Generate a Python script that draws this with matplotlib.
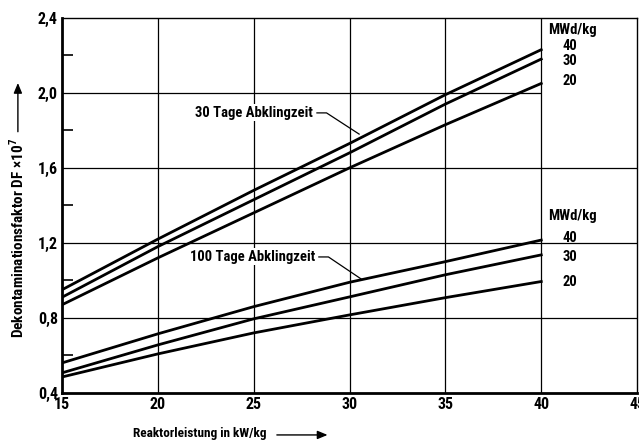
import matplotlib
matplotlib.use("Agg")
import matplotlib.pyplot as plt
from matplotlib import font_manager
from matplotlib.patches import FancyArrowPatch

# data
leistung = [15, 20, 25, 30, 35, 40]

df30_40 = [0.95, 1.22, 1.48, 1.73, 1.99, 2.23]
df30_30 = [0.91, 1.18, 1.43, 1.68, 1.94, 2.18]
df30_20 = [0.87, 1.12, 1.36, 1.60, 1.83, 2.05]

df100_40 = [0.56, 0.715, 0.86, 0.99, 1.10, 1.215]
df100_30 = [0.507, 0.656, 0.795, 0.912, 1.03, 1.136]
df100_20 = [0.485, 0.608, 0.72, 0.816, 0.908, 0.994]

abbrand = ["40", "30", "20"]
xticks = [15, 20, 25, 30, 35, 40, 45]
yticks = [0.4, 0.8, 1.2, 1.6, 2.0, 2.4]
yminor = [0.6, 1.0, 1.4, 1.8, 2.2]

names = {f.name for f in font_manager.fontManager.ttflist}
fam = "DejaVu Sans"
for cand in ["Roboto Condensed", "Liberation Sans Narrow", "Roboto"]:
    if cand in names:
        fam = cand
        break
plt.rcParams["font.family"] = [fam, "DejaVu Sans"]
plt.rcParams["font.weight"] = "bold"
plt.rcParams["mathtext.fontset"] = "custom"
plt.rcParams["mathtext.rm"] = fam

FS = 10.5
TFS = 11.5

fig = plt.figure(figsize=(6.39, 4.45), dpi=100)
ax = fig.add_axes([0.097, 0.117, 0.9, 0.843])

ax.set_xlim(15, 45)
ax.set_ylim(0.4, 2.4)

# grid, drawn by hand so the 2,0 line can stop at 40
for x in xticks[1:-1]:
    ax.axvline(x, color="black", lw=0.9, zorder=1)
for y in yticks[1:-1]:
    if y == 2.0:
        ax.hlines(y, 15, 40, color="black", lw=0.9, zorder=1)
    else:
        ax.axhline(y, color="black", lw=0.9, zorder=1)

for s in (df30_40, df30_30, df30_20, df100_40, df100_30, df100_20):
    ax.plot(leistung, s, color="black", lw=2.0, zorder=3)

ax.set_xticks(xticks)
ax.set_xticklabels([str(x) for x in xticks], fontsize=TFS, fontweight="bold")
ax.set_yticks(yticks)
ax.set_yticklabels([f"{y:.1f}".replace(".", ",") for y in yticks], fontsize=TFS, fontweight="bold")
ax.set_yticks(yminor, minor=True)
ax.tick_params(axis="y", which="minor", direction="in", length=8, width=1.2)
ax.tick_params(axis="both", which="major", length=0, pad=3)

ax.spines["left"].set_linewidth(2.0)
ax.spines["bottom"].set_linewidth(2.0)
ax.spines["top"].set_linewidth(1.0)
ax.spines["right"].set_linewidth(1.0)

# curve labels
ax.text(40.35, 2.335, "MWd/kg", fontsize=FS, fontweight="bold", va="center")
ax.text(41.5, 2.25, abbrand[0], fontsize=FS, fontweight="bold", va="center", ha="center")
ax.text(41.5, 2.17, abbrand[1], fontsize=FS, fontweight="bold", va="center", ha="center")
ax.text(41.5, 2.065, abbrand[2], fontsize=FS, fontweight="bold", va="center", ha="center")

ax.text(40.35, 1.345, "MWd/kg", fontsize=FS, fontweight="bold", va="center")
ax.text(41.5, 1.225, abbrand[0], fontsize=FS, fontweight="bold", va="center", ha="center")
ax.text(41.5, 1.125, abbrand[1], fontsize=FS, fontweight="bold", va="center", ha="center")
ax.text(41.5, 0.99, abbrand[2], fontsize=FS, fontweight="bold", va="center", ha="center")

ax.text(28.1, 1.893, "30 Tage Abklingzeit", fontsize=FS, fontweight="bold",
        va="center", ha="right", bbox=dict(fc="white", ec="none", pad=1), zorder=4)
ax.plot([28.3, 28.8, 30.5], [1.893, 1.893, 1.78], color="black", lw=0.9, zorder=4)

ax.text(28.2, 1.125, "100 Tage Abklingzeit", fontsize=FS, fontweight="bold",
        va="center", ha="right", bbox=dict(fc="white", ec="none", pad=1), zorder=4)
ax.plot([28.4, 28.9, 30.6], [1.125, 1.125, 1.008], color="black", lw=0.9, zorder=4)

# axis titles with arrows
xl = fig.text(0.208, 0.012, "Reaktorleistung in kW/kg", fontsize=9.5, fontweight="bold",
              ha="left", va="bottom")
yl = fig.text(0.028, 0.465, "Dekontaminationsfaktor DF \u00d710$^7$", fontsize=11,
              fontweight="bold", rotation=90, ha="center", va="center")

fig.canvas.draw()
inv = fig.transFigure.inverted()
bx = inv.transform(xl.get_window_extent().get_points())
by = inv.transform(yl.get_window_extent().get_points())
ymid_x = (bx[0][1] + bx[1][1]) / 2 - 0.004
fig.add_artist(FancyArrowPatch(
    (bx[1][0] + 0.012, ymid_x), (bx[1][0] + 0.1, ymid_x), transform=fig.transFigure,
    arrowstyle="-|>,head_length=6,head_width=2.5", lw=1.0, color="black"))
xmid_y = (by[0][0] + by[1][0]) / 2
fig.add_artist(FancyArrowPatch(
    (xmid_y, by[1][1] + 0.008), (xmid_y, by[1][1] + 0.13), transform=fig.transFigure,
    arrowstyle="-|>,head_length=6,head_width=2.5", lw=1.0, color="black"))

fig.savefig("out.png", dpi=100)
